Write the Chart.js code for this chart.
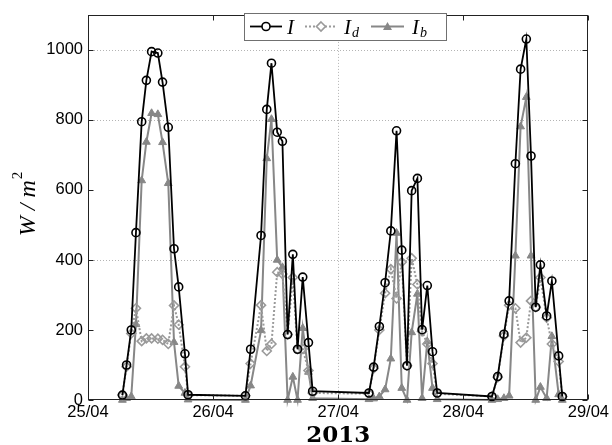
<!DOCTYPE html>
<html>
<head>
<meta charset="utf-8">
<script src="https://cdn.jsdelivr.net/npm/chart.js@4/dist/chart.umd.min.js"></script>
<style>
  html, body { margin: 0; padding: 0; background: #fff; }
  #wrap { width: 612px; height: 445px; }
</style>
</head>
<body>
<div id="wrap"><canvas id="c" width="612" height="445"></canvas></div>
<script>
// Sample times, in hours after 25/04/2013 00:00
const hours = [
  6.6, 7.4, 8.3, 9.2, 10.3, 11.2, 12.2, 13.4, 14.3, 15.4, 16.5, 17.4, 18.6, 19.2,
  30.2, 31.2, 33.2, 34.3, 35.2, 36.3, 37.3, 38.3, 39.3, 40.2, 41.2, 42.3, 43.1,
  53.9, 54.8, 55.9, 57.0, 58.1, 59.2, 60.2, 61.2, 62.1, 63.2, 64.1, 65.1, 66.1, 67.0,
  77.5, 78.6, 79.8, 80.8, 82.0, 83.0, 84.1, 85.0, 85.9, 86.8, 88.0, 89.0, 90.3, 91.0
];
// Global irradiance I (W/m2)
const irrGlobal = [
  14, 100, 200, 478, 795, 913, 995, 991, 908, 779, 432, 323, 132, 15,
  12, 145, 470, 830, 962, 765, 739, 187, 416, 145, 351, 164, 25,
  20, 94, 210, 335, 483, 769, 428, 98, 598, 633, 201, 327, 138, 20,
  10, 67, 188, 283, 675, 945, 1031, 697, 265, 386, 240, 340, 126, 10
];
// Diffuse irradiance I_d (W/m2)
const irrDiffuse = [
  14, 95, 190, 262, 168, 176, 176, 175, 172, 160, 270, 215, 95, 14,
  12, 104, 271, 140, 160, 365, 360, 187, 350, 145, 146, 84, 20,
  18, 90, 200, 305, 374, 290, 394, 98, 405, 330, 196, 160, 104, 18,
  10, 65, 183, 271, 262, 164, 178, 283, 265, 350, 235, 160, 110, 10
];
// Beam irradiance I_b (W/m2)
const irrBeam = [
  0, 5, 10, 216, 627, 737, 819, 816, 736, 619, 165, 40, 20, 1,
  0, 41, 199, 690, 802, 400, 379, 0, 66, 0, 205, 80, 5,
  2, 4, 10, 30, 118, 477, 34, 0, 193, 303, 5, 167, 34, 2,
  0, 2, 5, 12, 412, 781, 865, 412, 0, 37, 5, 182, 16, 0
];

const xTickHours = [0, 24, 48, 72, 96];
const xTickLabels = ['25/04', '26/04', '27/04', '28/04', '29/04'];
const yTicks = [0, 200, 400, 600, 800, 1000];
const yGridValues = [400, 800, 1000];
const xGridHours = [48];

const toPoints = vals => hours.map((h, i) => ({ x: h, y: vals[i] }));

const COL_I = '#000000';
const COL_ID = '#9a9a9a';
const COL_IB = '#878787';

const serif = '"Liberation Serif", "DejaVu Serif", serif';
const sans = '"Liberation Sans", Arial, sans-serif';

// Dotted grid, boxed axes with inward ticks, legend and axis titles
const decor = {
  id: 'decor',
  beforeDatasetsDraw(chart) {
    const { ctx, chartArea: a, scales: { x, y } } = chart;
    ctx.save();
    ctx.strokeStyle = '#b4b4b4';
    ctx.lineWidth = 1;
    ctx.setLineDash([1, 2]);
    yGridValues.forEach(v => {
      const py = Math.round(y.getPixelForValue(v)) + 0.5;
      ctx.beginPath(); ctx.moveTo(a.left, py); ctx.lineTo(a.right, py); ctx.stroke();
    });
    xGridHours.forEach(v => {
      const px = Math.round(x.getPixelForValue(v)) + 0.5;
      ctx.beginPath(); ctx.moveTo(px, a.top); ctx.lineTo(px, a.bottom); ctx.stroke();
    });
    ctx.restore();
  },
  afterDatasetsDraw(chart) {
    const { ctx, chartArea: a, scales: { x, y } } = chart;
    ctx.save();
    // axes box
    ctx.strokeStyle = '#222';
    ctx.lineWidth = 1;
    ctx.setLineDash([]);
    const L = Math.round(a.left) + 0.5, R = Math.round(a.right) - 0.5;
    const T = Math.round(a.top) + 0.5, B = Math.round(a.bottom) - 0.5;
    ctx.strokeRect(L, T, R - L, B - T);
    // inward tick marks
    const tl = 5;
    ctx.beginPath();
    yTicks.forEach(v => {
      const py = Math.round(y.getPixelForValue(v)) + 0.5;
      ctx.moveTo(L, py); ctx.lineTo(L + tl, py);
      ctx.moveTo(R, py); ctx.lineTo(R - tl, py);
    });
    xTickHours.forEach(v => {
      const px = Math.round(x.getPixelForValue(v)) + 0.5;
      ctx.moveTo(px, B); ctx.lineTo(px, B - tl);
      ctx.moveTo(px, T); ctx.lineTo(px, T + tl);
    });
    ctx.stroke();

    // legend
    const lx = 244, ly = 13, lw = 202, lh = 27, cy = ly + lh / 2;
    ctx.fillStyle = '#fff';
    ctx.fillRect(lx, ly, lw, lh);
    ctx.strokeStyle = '#707070';
    ctx.strokeRect(lx + 0.5, ly + 0.5, lw, lh);

    const sample = (x0, x1, color, dash, width) => {
      ctx.strokeStyle = color; ctx.lineWidth = width; ctx.setLineDash(dash);
      ctx.beginPath(); ctx.moveTo(x0, cy); ctx.lineTo(x1, cy); ctx.stroke();
      ctx.setLineDash([]);
    };
    const label = (x0, sub) => {
      ctx.fillStyle = '#000';
      ctx.textBaseline = 'alphabetic';
      ctx.textAlign = 'left';
      ctx.font = 'italic 21px ' + serif;
      ctx.fillText('I', x0, cy + 7);
      if (sub) {
        const w = ctx.measureText('I').width;
        ctx.font = 'italic 14px ' + serif;
        ctx.fillText(sub, x0 + w + 1, cy + 10);
      }
    };
    // I
    sample(250, 282, COL_I, [], 1.8);
    ctx.strokeStyle = COL_I; ctx.lineWidth = 1.6; ctx.fillStyle = '#fff';
    ctx.beginPath(); ctx.arc(266, cy, 4, 0, Math.PI * 2); ctx.fill(); ctx.stroke();
    label(287, null);
    // I_d
    sample(305, 337, COL_ID, [2, 2], 2);
    ctx.strokeStyle = COL_ID; ctx.lineWidth = 1.6; ctx.fillStyle = '#fff';
    ctx.beginPath();
    ctx.moveTo(321, cy - 4.5); ctx.lineTo(325.5, cy); ctx.lineTo(321, cy + 4.5); ctx.lineTo(316.5, cy);
    ctx.closePath(); ctx.fill(); ctx.stroke();
    label(344, 'd');
    // I_b
    sample(371, 404, COL_IB, [], 2);
    ctx.fillStyle = COL_IB;
    ctx.beginPath();
    ctx.moveTo(387.5, cy - 4.5); ctx.lineTo(392, cy + 3.5); ctx.lineTo(383, cy + 3.5);
    ctx.closePath(); ctx.fill();
    label(412, 'b');

    // y-axis title: W / m^2
    ctx.save();
    ctx.translate(27, 204);
    ctx.rotate(-Math.PI / 2);
    ctx.fillStyle = '#000';
    ctx.textBaseline = 'alphabetic';
    ctx.textAlign = 'left';
    ctx.font = 'italic 24px ' + serif;
    const main = 'W / m';
    const mw = ctx.measureText(main).width;
    ctx.font = '15px ' + serif;
    const sw = ctx.measureText('2').width;
    const start = -(mw + sw + 1) / 2;
    ctx.font = 'italic 24px ' + serif;
    ctx.fillText(main, start, 8);
    ctx.font = '15px ' + serif;
    ctx.fillText('2', start + mw + 1, -5);
    ctx.restore();

    // x-axis title
    ctx.fillStyle = '#000';
    ctx.textAlign = 'center';
    ctx.textBaseline = 'alphabetic';
    ctx.font = 'bold 23px "DejaVu Serif", serif';
    ctx.fillText('2013', (a.left + a.right) / 2, 442);
    ctx.restore();
  }
};

new Chart(document.getElementById('c'), {
  type: 'line',
  data: {
    datasets: [
      {
        label: 'I',
        data: toPoints(irrGlobal),
        borderColor: COL_I,
        borderWidth: 1.8,
        pointStyle: 'circle',
        pointRadius: 4,
        pointBorderWidth: 1.6,
        pointBorderColor: COL_I,
        pointBackgroundColor: 'rgba(255,255,255,0)',
        clip: false
      },
      {
        label: 'I_d',
        data: toPoints(irrDiffuse),
        borderColor: COL_ID,
        borderWidth: 2,
        borderDash: [2, 2],
        pointStyle: 'rectRot',
        pointRadius: 4.5,
        pointBorderWidth: 1.6,
        pointBorderColor: COL_ID,
        pointBackgroundColor: 'rgba(255,255,255,0)',
        clip: false
      },
      {
        label: 'I_b',
        data: toPoints(irrBeam),
        borderColor: COL_IB,
        borderWidth: 2,
        pointStyle: 'triangle',
        pointRadius: 4.5,
        pointBorderWidth: 1,
        pointBorderColor: COL_IB,
        pointBackgroundColor: COL_IB,
        clip: false
      }
    ]
  },
  options: {
    responsive: false,
    animation: false,
    devicePixelRatio: 1,
    layout: { padding: { left: 0, right: 22, top: 9, bottom: 0 } },
    elements: { line: { tension: 0, fill: false } },
    plugins: { legend: { display: false }, tooltip: { enabled: false } },
    scales: {
      x: {
        type: 'linear',
        min: 0,
        max: 96,
        grid: { display: false, drawTicks: false, tickLength: 0 },
        border: { display: false },
        afterBuildTicks: s => { s.ticks = xTickHours.map(v => ({ value: v })); },
        afterFit: s => { s.height = 45; },
        ticks: {
          autoSkip: false,
          maxRotation: 0,
          padding: 3,
          color: '#000',
          font: { family: sans, size: 16.5 },
          callback: v => xTickLabels[xTickHours.indexOf(v)]
        }
      },
      y: {
        min: 0,
        max: 1100,
        grid: { display: false, drawTicks: false, tickLength: 0 },
        border: { display: false },
        afterBuildTicks: s => { s.ticks = yTicks.map(v => ({ value: v })); },
        afterFit: s => { s.width = 88; },
        ticks: {
          padding: 5,
          color: '#000',
          font: { family: sans, size: 16.5 },
          callback: v => String(v)
        }
      }
    }
  },
  plugins: [decor]
});
</script>
</body>
</html>
